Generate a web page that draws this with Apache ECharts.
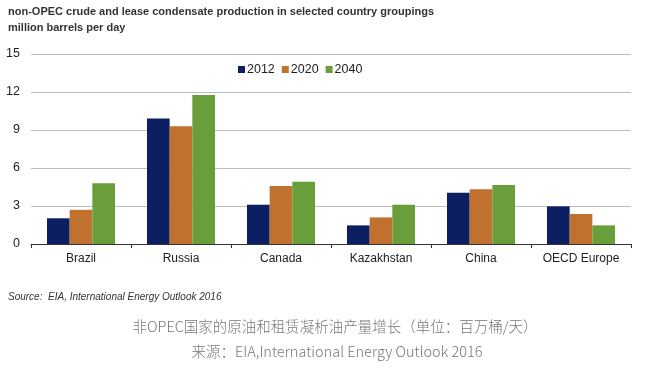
<!DOCTYPE html>
<html><head><meta charset="utf-8">
<script src="https://cdn.jsdelivr.net/npm/echarts@6/dist/echarts.min.js"></script>
<style>html,body{margin:0;padding:0;background:#fff}#c{width:652px;height:380px}</style>
</head><body><div id="c"></div>
<script>
var categories = ['Brazil', 'Russia', 'Canada', 'Kazakhstan', 'China', 'OECD Europe'];
var values2012 = [2.03, 9.9, 3.1, 1.47, 4.05, 2.97];
var values2020 = [2.7, 9.3, 4.58, 2.1, 4.32, 2.37];
var values2040 = [4.8, 11.76, 4.92, 3.1, 4.66, 1.47];
var yTicks = [0, 3, 6, 9, 12, 15];

var chart = echarts.init(document.getElementById('c'), null, {renderer: 'canvas'});
var f = '"Liberation Sans", Arial, sans-serif';
chart.setOption({
  animation: false,
  backgroundColor: '#fff',
  grid: {left: 31, right: 21, top: 54, bottom: 136},
  legend: {
    data: ['2012', '2020', '2040'],
    left: 233, top: 58,
    itemWidth: 7, itemHeight: 7, itemGap: 7,
    icon: 'rect',
    textStyle: {fontFamily: f, fontSize: 12.5, color: '#222', padding: [0, 0, 0, -3]}
  },
  xAxis: {
    type: 'category',
    data: categories,
    axisLine: {lineStyle: {color: '#333', width: 1.2}},
    axisTick: {show: true, length: 4, inside: false, lineStyle: {color: '#333'}},
    axisLabel: {fontFamily: f, fontSize: 12, color: '#222', margin: 9}
  },
  yAxis: {
    type: 'value',
    min: yTicks[0], max: yTicks[yTicks.length - 1], interval: 3,
    axisLine: {show: false},
    axisTick: {show: false},
    splitLine: {lineStyle: {color: '#bdbdbd', width: 1}},
    axisLabel: {fontFamily: f, fontSize: 12.5, color: '#222', margin: 11}
  },
  series: [
    {name: '2012', type: 'bar', data: values2012, barGap: '0%', barCategoryGap: '32%', itemStyle: {color: '#0c1f63'}},
    {name: '2020', type: 'bar', data: values2020, barGap: '0%', barCategoryGap: '32%', itemStyle: {color: '#c0712f'}},
    {name: '2040', type: 'bar', data: values2040, barGap: '0%', barCategoryGap: '32%', itemStyle: {color: '#6a9e3b'}}
  ],
  graphic: [
    {type: 'text', left: 8, top: 6, style: {text: 'non-OPEC crude and lease condensate production in selected country groupings', font: 'bold 11px ' + f, fill: '#333'}},
    {type: 'text', left: 8, top: 22, style: {text: 'million barrels per day', font: 'bold 11px ' + f, fill: '#333'}},
    {type: 'text', left: 8, top: 292, style: {text: 'Source:  EIA, International Energy Outlook 2016', font: 'italic 10px ' + f, fill: '#333'}},
    {type: 'text', x: 335, y: 326, style: {text: '非OPEC国家的原油和租赁凝析油产量增长（单位：百万桶/天）', font: '300 14.5px "Noto Sans CJK SC", sans-serif', fill: '#777', align: 'center', verticalAlign: 'middle'}},
    {type: 'text', x: 337, y: 351, style: {text: '来源：EIA,International Energy Outlook 2016', font: '300 14.5px "Noto Sans CJK SC", sans-serif', fill: '#777', align: 'center', verticalAlign: 'middle'}}
  ]
});
</script></body></html>
